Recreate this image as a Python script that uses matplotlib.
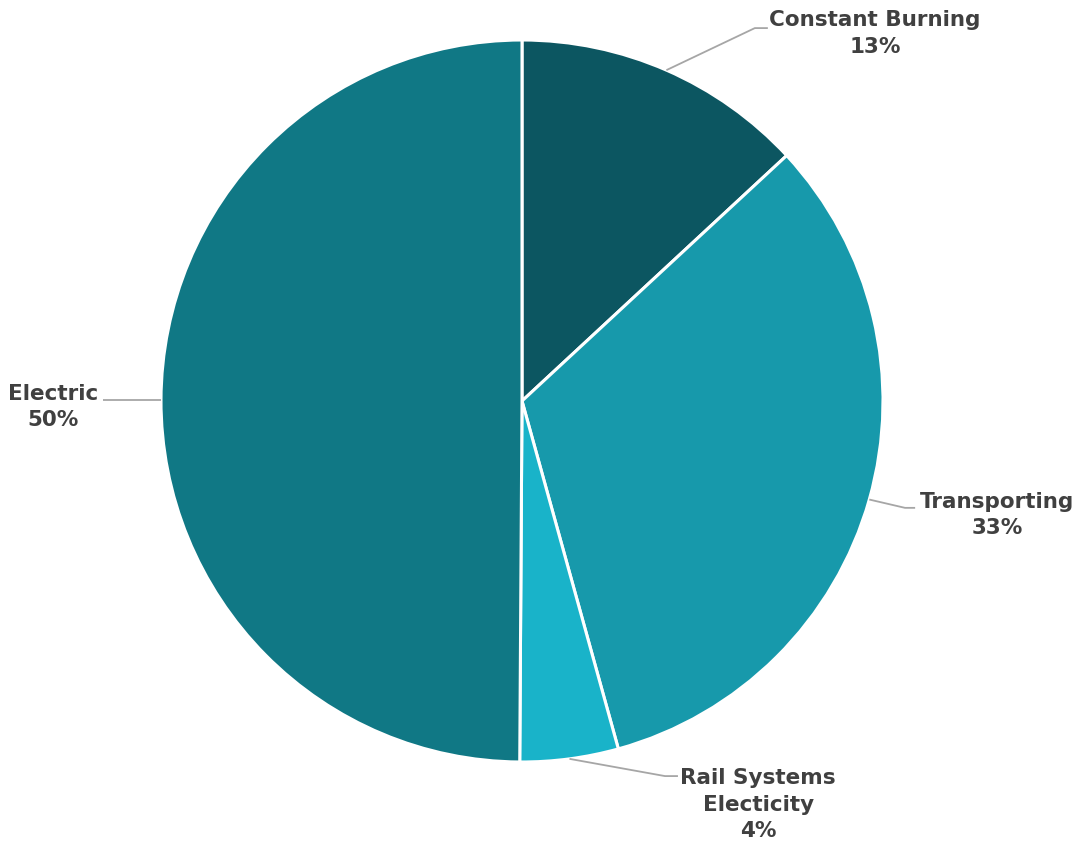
"""Emissions share by sector, drawn as a pie with outside leader-line labels.

    python plot.py        # saves out.png
"""
import numpy as np
import matplotlib

matplotlib.use("Agg")
import matplotlib.pyplot as plt  # noqa: E402

# ---------------------------------------------------------------------- data
sectors = ["Constant Burning", "Transporting", "Rail Systems\nElecticity", "Electric"]
shares = [13.1, 32.6, 4.4, 49.9]
colors = ["#0c5661", "#1799ab", "#19b3c9", "#107885"]

# label placement: (elbow, line end, text centre) in pie-radius units, None = straight line
label_pos = [
    ((0.645, 1.033), (0.681, 1.033), (0.978, 1.018)),
    ((1.061, -0.296), (1.089, -0.296), (1.316, -0.316)),
    ((0.396, -1.039), (0.432, -1.039), (0.654, -1.118)),
    (None, (-0.16, -0.005), (-1.300, -0.016)),
]

TEXT = "#404040"
LEADER = "#a6a6a6"


def main():
    W, H = 1085, 841
    fig = plt.figure(figsize=(W / 100, H / 100), dpi=100)
    cx, cy, r = 522, 401, 361
    ax = fig.add_axes([(cx - r) / W, (H - cy - r) / H, 2 * r / W, 2 * r / H])

    wedges, _ = ax.pie(shares, colors=colors, startangle=90, counterclock=False,
                       radius=1.0, wedgeprops=dict(edgecolor="white", linewidth=2.2))
    ax.set_xlim(-1, 1)
    ax.set_ylim(-1, 1)
    ax.set_aspect("equal")
    ax.axis("off")

    for w, name, val, (elbow, end, txt) in zip(wedges, sectors, shares, label_pos):
        mid = np.deg2rad((w.theta1 + w.theta2) / 2)
        x0, y0 = np.cos(mid), np.sin(mid)
        if elbow is None:
            xs, ys = [x0, x0 + end[0] - 0.002], [y0, y0]
        else:
            xs, ys = [x0, elbow[0], end[0]], [y0, elbow[1], end[1]]
        ax.plot(xs, ys, color=LEADER, lw=1.3, clip_on=False, solid_capstyle="butt")
        ax.text(txt[0], txt[1], f"{name}\n{val:.0f}%", ha="center", va="center",
                fontsize=15.5, fontweight="bold", color=TEXT, linespacing=1.4,
                clip_on=False)

    fig.savefig("out.png", dpi=100)


if __name__ == "__main__":
    main()
